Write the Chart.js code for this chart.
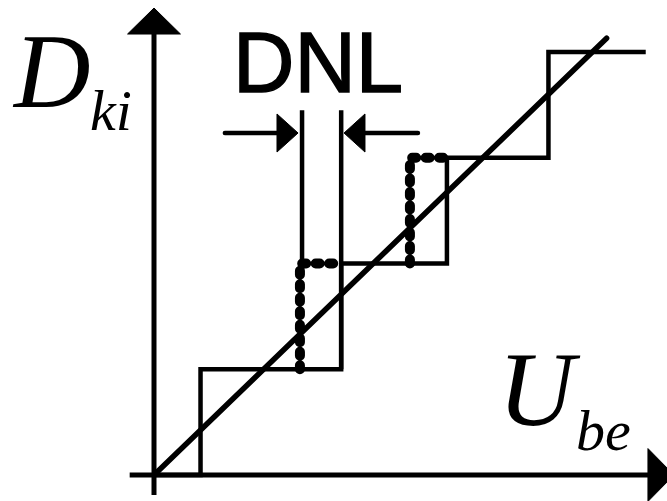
<!DOCTYPE html>
<html><head><meta charset="utf-8">
<script src="https://cdn.jsdelivr.net/npm/chart.js@4/dist/chart.umd.min.js"></script>
<style>html,body{margin:0;padding:0;background:#fff;}canvas{display:block}</style>
</head><body>
<canvas id="c" width="667" height="501"></canvas>
<script>
// Values in LSB units (x: input U_be, y: output code D_ki)
const stairX = [0, 0.44, 0.44, 1.77, 1.77, 2.77, 2.77, 3.73, 3.73, 4.65];
const stairY = [0, 0, 1, 1, 2, 2, 3, 3, 4, 4];
const idealX = [0, 4.28];
const idealY = [0, 4.13];
const dev1X = [1.38, 1.38, 1.77];
const dev1Y = [1, 2, 2];
const dev2X = [2.42, 2.42, 2.77];
const dev2Y = [2, 3, 3];
const dnlLeftX = [1.40, 1.40];
const dnlLeftY = [2, 3.45];
const dnlRightX = [1.77, 1.77];
const dnlRightY = [1, 3.45];
const axisVX = [0, 0];
const axisVY = [-0.19, 4.2];
const axisHX = [-0.23, 4.7];
const axisHY = [0, 0];
const headUpX = [-0.25, 0, 0.25, -0.25];
const headUpY = [4.17, 4.416, 4.17, 4.17];
const headRightX = [4.671, 4.917, 4.671, 4.671];
const headRightY = [0.25, 0, -0.25, 0.25];
const dnlArrowY = 3.234;
const dnlLineLX = [0.67, 1.2];
const dnlLineRX = [1.97, 2.496];
const dnlHeadLX = [1.163, 1.362, 1.163, 1.163];
const dnlHeadRX = [1.995, 1.797, 1.995, 1.995];
const dnlHeadY = [3.414, 3.234, 3.054, 3.414];

const pts = (xs, ys) => xs.map((x, i) => ({x, y: Array.isArray(ys) ? ys[i] : ys}));
const line = (xs, ys, w, extra) => Object.assign({
  data: pts(xs, ys), showLine: true, borderColor: '#000', borderWidth: w,
  pointRadius: 0, fill: false, borderCapStyle: 'butt', borderJoinStyle: 'miter', tension: 0
}, extra || {});
const head = (xs, ys) => line(xs, ys, 1, {fill: 'shape', backgroundColor: '#000'});
const dotted = (xs, ys) => line(xs, ys, 10, {borderDash: [4, 9.5], borderCapStyle: 'round', borderJoinStyle: 'round'});

const labels = {
  id: 'labels',
  afterDraw(chart) {
    const ctx = chart.ctx;
    ctx.save();
    ctx.fillStyle = '#000';
    ctx.strokeStyle = '#000';
    ctx.textBaseline = 'alphabetic';
    ctx.font = 'italic 106px "Liberation Serif"';
    ctx.fillText('D', 14, 107);
    ctx.fillText('U', 498, 425);
    ctx.font = 'italic 58px "Liberation Serif"';
    ctx.fillText('ki', 90, 130);
    ctx.fillText('be', 576, 450);
    ctx.font = '85px "Liberation Sans"';
    ctx.lineWidth = 1.5;
    ctx.fillText('DNL', 233, 92);
    ctx.strokeText('DNL', 233, 92);
    ctx.restore();
  }
};

function draw() {
  new Chart(document.getElementById('c'), {
    type: 'scatter',
    data: { datasets: [
      line(axisVX, axisVY, 5),
      line(axisHX, axisHY, 5),
      head(headUpX, headUpY),
      head(headRightX, headRightY),
      line(stairX, stairY, 4.5),
      line(idealX, idealY, 5.5, {borderCapStyle: 'round'}),
      dotted(dev1X, dev1Y),
      dotted(dev2X, dev2Y),
      line(dnlLeftX, dnlLeftY, 4.5),
      line(dnlRightX, dnlRightY, 4.5),
      line(dnlLineLX, dnlArrowY, 4.5, {borderCapStyle: 'round'}),
      line(dnlLineRX, dnlArrowY, 4.5, {borderCapStyle: 'round'}),
      head(dnlHeadLX, dnlHeadY),
      head(dnlHeadRX, dnlHeadY)
    ]},
    options: {
      responsive: false, animation: false, devicePixelRatio: 1,
      layout: {padding: 0},
      plugins: {legend: {display: false}, tooltip: {enabled: false}},
      scales: {
        x: {type: 'linear', display: false, min: -154 / 105.75, max: 513 / 105.75},
        y: {type: 'linear', display: false, min: -26 / 105.75, max: 475 / 105.75}
      }
    },
    plugins: [labels]
  });
}
Promise.all([
  document.fonts.load('italic 106px "Liberation Serif"'),
  document.fonts.load('85px "Liberation Sans"')
]).then(draw, draw);
</script>
</body></html>
